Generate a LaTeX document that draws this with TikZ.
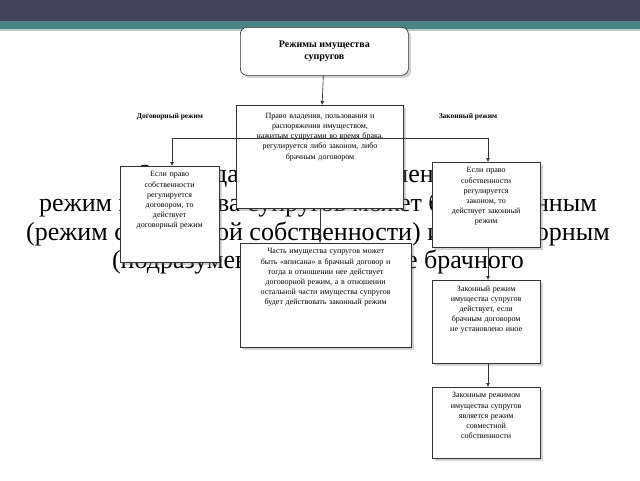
\documentclass[tikz,border=0pt]{standalone}
\usepackage{fontspec}
\setmainfont{Liberation Serif}
\usetikzlibrary{shadows,arrows.meta}
\definecolor{slidedark}{RGB}{66,66,88}
\definecolor{slideteal}{RGB}{74,132,130}
\newcommand{\topfill}[2]{\parbox[c][\dimexpr0.75pt*#1-8pt\relax][t]{\linewidth}{\centering #2}}
\begin{document}
\begin{tikzpicture}[x=0.75pt,y=-0.75pt]
    \tikzstyle{box} = [draw=black!80, fill=white, line width=0.5pt, drop shadow={shadow xshift=2pt, shadow yshift=-2pt, opacity=0.35},
      font=\fontsize{6}{7.6}\selectfont, align=center, anchor=north west, inner sep=4pt]
    \tikzstyle{link} = [draw=black!80, line width=0.5pt, -{Latex[length=3pt,width=3pt]}]
    \tikzstyle{tag} = [font=\bfseries\fontsize{5.6}{7}\selectfont]
    % slide background
    \useasboundingbox (0,0) rectangle (640,480);
    \fill[white] (0,0) rectangle (640,480);
    \fill[slidedark] (0,0) rectangle (640,21);
    \fill[slideteal] (0,21) rectangle (640,29);
    \fill[slideteal!40] (0,29) rectangle (640,31);
    \node[font=\fontsize{19.5}{21.5}\selectfont, align=center] (slidetext) at (318,220)
      {Законодательно определено, что\\
       режим имущества супругов может быть законным\\
       (режим совместной собственности) или договорным\\
       (подразумевает заключение брачного};
    % boxes
    \node[box, rounded corners=5pt, minimum width=168*0.75pt, minimum height=48*0.75pt,
      font=\bfseries\fontsize{7.5}{9.5}\selectfont] (root) at (240,27) {Режимы имущества\\супругов};
    \node[box, text width=156*0.75pt, anchor=north] (right) at (320,105)
      {\topfill{103}{\vspace{2pt}Право владения, пользования и\\распоряжения имуществом,\\нажитым супругами во время брака,\\регулируется либо законом, либо\\брачным договором}};
    \node[box, text width=88*0.75pt] (contract) at (120,166)
      {\topfill{96}{Если право\\собственности\\регулируется\\договором, то\\действует\\договорный режим}};
    \node[box, text width=97*0.75pt] (law) at (432,162)
      {\topfill{85}{Если право\\собственности\\регулируется\\законом, то\\действует законный\\режим}};
    \node[box, text width=160*0.75pt] (mixed) at (240,243)
      {\topfill{104}{Часть имущества супругов может\\быть «вписана» в брачный договор и\\тогда в отношении нее действует\\договорной режим, а в отношении\\остальной части имущества супругов\\будет действовать законный режим}};
    \node[box, text width=97*0.75pt] (legal) at (432,280)
      {\topfill{83}{Законный режим\\имущества супругов\\действует, если\\брачным договором\\не установлено иное}};
    \node[box, text width=97*0.75pt] (joint) at (432,387)
      {\topfill{71}{Законным режимом\\имущества супругов\\является режим\\совместной\\собственности}};
    % tags
    \node[tag] (tagc) at (170,117) {Договорный режим};
    \node[tag] (tagl) at (468,117) {Законный режим};
    % connectors
    \coordinate (fork) at (320,138);
    \draw[link] (root) -- (right);
    \draw[link] (fork) -| (contract.north -| 172,0);
    \draw[link] (fork) -| (law.north -| 488,0);
    \draw[link] (right) -- (mixed.north -| right.south);
    \draw[link] (law.south -| 488,0) -- (legal.north -| 488,0);
    \draw[link] (legal.south -| 488,0) -- (joint.north -| 488,0);
\end{tikzpicture}
\end{document}
